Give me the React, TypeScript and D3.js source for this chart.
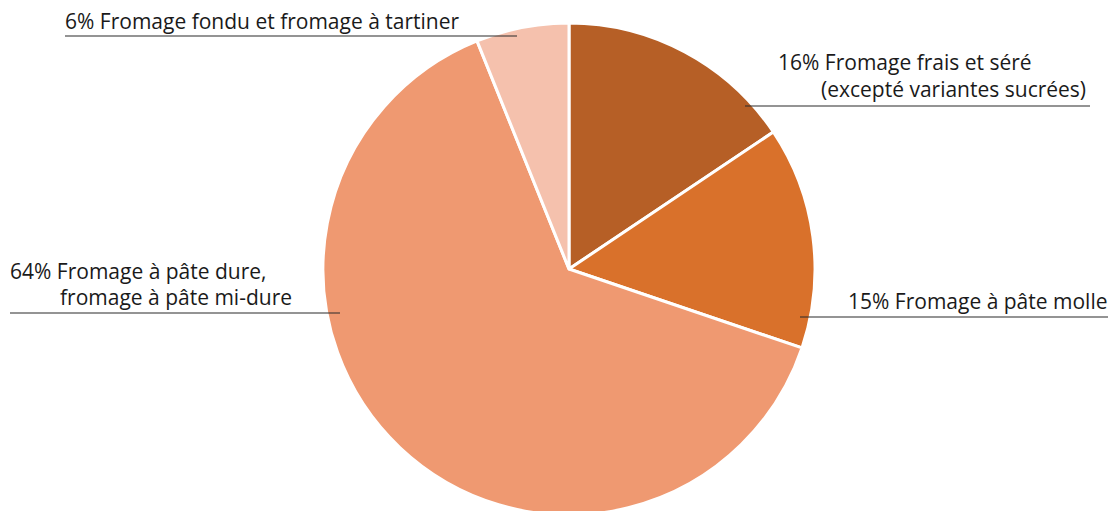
import React from "react";
import * as d3 from "d3";

const categories = [
  "Fromage frais et séré (excepté variantes sucrées)",
  "Fromage à pâte molle",
  "Fromage à pâte dure, fromage à pâte mi-dure",
  "Fromage fondu et fromage à tartiner",
];
const values = [15.6, 14.6, 63.7, 6.1];
const labelLines = [
  ["16% Fromage frais et séré", "(excepté variantes sucrées)"],
  ["15% Fromage à pâte molle"],
  ["64% Fromage à pâte dure,", "fromage à pâte mi-dure"],
  ["6% Fromage fondu et fromage à tartiner"],
];
const colors = ["#b65f26", "#d9712b", "#ef9971", "#f5c1ad"];

const labelLayout = [
  { x1: 745, x2: 1090, y: 106, tx: [778, 821], ty: [70, 97] },
  { x1: 800, x2: 1108, y: 317, tx: [848], ty: [309] },
  { x1: 10, x2: 340, y: 313, tx: [10, 60], ty: [279, 305] },
  { x1: 65, x2: 517, y: 36, tx: [65], ty: [29] },
];

export default function App() {
  const W = 1113, H = 511;
  const cx = 569, cy = 269, r = 246;
  const pie = d3.pie<number>().sort(null).value((d) => d);
  const arcs = pie(values);
  const arc = d3.arc<d3.PieArcDatum<number>>().innerRadius(0).outerRadius(r);
  return (
    <svg width={W} height={H} style={{ position: "absolute", left: 0, top: 0, background: "#fff" }}>
      <g transform={`translate(${cx},${cy})`}>
        {arcs.map((a, i) => (
          <path key={categories[i]} d={arc(a) || ""} fill={colors[i]} stroke="#fff" strokeWidth={3} strokeLinejoin="round" />
        ))}
      </g>
      {labelLayout.map((l, i) => (
        <g key={i}>
          <line x1={l.x1} x2={l.x2} y1={l.y} y2={l.y} stroke="#2a2a2a" strokeWidth={1.2} />
          <text fontFamily="'Open Sans', sans-serif" fontSize={21} fill="#1a1a1a">
            {labelLines[i].map((t, j) => (
              <tspan key={j} x={l.tx[j]} y={l.ty[j]}>
                {t}
              </tspan>
            ))}
          </text>
        </g>
      ))}
    </svg>
  );
}
